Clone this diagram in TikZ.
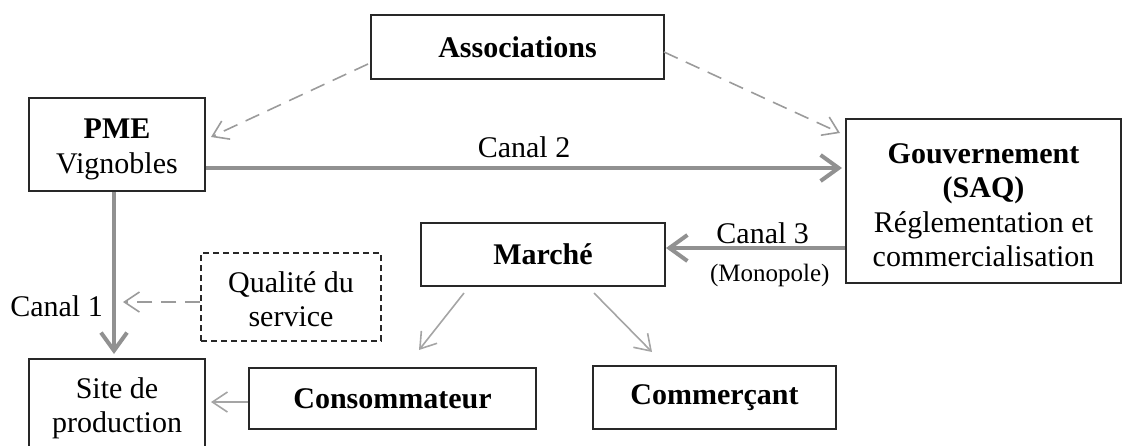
\documentclass[tikz,border=0pt]{standalone}
\usepackage{fontspec}
\setmainfont{Liberation Serif}
\usetikzlibrary{arrows.meta,calc}
\definecolor{boxline}{RGB}{40,40,40}
\definecolor{flow}{RGB}{145,145,145}
\definecolor{thinflow}{RGB}{165,165,165}
\definecolor{dashflow}{RGB}{155,155,155}

\begin{document}
\begin{tikzpicture}[x=1pt,y=-1pt,
  box/.style={draw=boxline, line width=2pt, inner sep=0pt, align=center,
    font=\fontsize{30}{34.5}\selectfont},
  dbox/.style={box, line width=1.3pt, dash pattern=on 6pt off 4pt},
  txt/.style={inner sep=0pt, align=center, font=\fontsize{30}{34.5}\selectfont},
  canal/.style={draw=flow, line width=4.5pt,
    -{Straight Barb[length=18pt,width=26pt,line width=4pt]}},
  thinarrow/.style={draw=thinflow, line width=1.6pt,
    -{Straight Barb[length=15pt,width=20pt,line width=1.6pt]}},
  dasharrow/.style={draw=dashflow, line width=1.6pt, dash pattern=on 15pt off 9pt,
    -{Straight Barb[length=15pt,width=20pt,line width=1.6pt]}},
  lbl/.style={font=\fontsize{30}{32}\selectfont, inner sep=0pt},
  smalllbl/.style={font=\fontsize{25}{28}\selectfont, inner sep=0pt}
]
\useasboundingbox (0,0) rectangle (1123,445);

% single-line boxes
\node[box, minimum width=293pt, minimum height=64pt] (assoc) at (517.5,47) {\textbf{Associations}};
\node[box, minimum width=244pt, minimum height=63pt] (marche) at (543,254.5) {\textbf{March\'e}};
\node[box, minimum width=287pt, minimum height=61pt] (cons) at (392.5,398.5) {\textbf{Consommateur}};
\node[box, minimum width=243pt, minimum height=63pt] (comm) at (714.5,397.5) {\textbf{Commer\c{c}ant}};

% multi-line boxes: frame first, text set slightly below the centre
\node[box, minimum width=176pt, minimum height=93pt] (pme) at (117,144.5) {};
\node[txt] (pmetext) at ([yshift=-5pt]pme.center) {\textbf{PME}\\Vignobles};
\node[box, minimum width=275pt, minimum height=164pt] (gouv) at (983.5,201) {};
\node[txt] (gouvtext) at ([yshift=-4pt]gouv.center) {\textbf{Gouvernement}\\\textbf{(SAQ)}\\R\'eglementation et\\commercialisation};
\node[dbox, minimum width=180pt, minimum height=88pt] (qual) at (291,297) {};
\node[txt] (qualtext) at ([yshift=-2pt]qual.center) {Qualit\'e du\\service};
\node[box, minimum width=176pt, minimum height=93pt] (site) at (117,405.5) {};
\node[txt] (sitetext) at ([yshift=-3pt]site.center) {Site de\\production};

% helper positions for the channel lines
\coordinate (c1) at (114,0);
\coordinate (c2) at (0,168);
\coordinate (c3) at (0,248);
\coordinate (c1end) at (114,354);

% main channels
\draw[canal] (pme.east |- c2) -- node[lbl, pos=0.5, above=8pt] (canal2) {Canal 2} ([xshift=-3pt]gouv.west |- c2);
\draw[canal] (gouv.west |- c3) -- node[lbl, pos=0.46, above=2pt] (canal3) {Canal 3}
  node[smalllbl, pos=0.42, below=14pt] (mono) {(Monopole)} (marche.east |- c3);
\draw[canal] (pme.south -| c1) -- (c1end);
\node[lbl, anchor=east] (canal1) at (103,306) {Canal 1};

% influences
\coordinate (a1) at (368,64);
\coordinate (p1) at (211,137);
\coordinate (a2) at (664,52);
\coordinate (g1) at (840,133);
\coordinate (q0) at (0,302);
\coordinate (q1) at (123,302);
\draw[dasharrow] (a1) -- (p1);
\draw[dasharrow] (a2) -- (g1);
\draw[dasharrow] (qual.west |- q0) -- (q1);

% market flows
\coordinate (m1) at (464,293);
\coordinate (k1) at (419,350);
\coordinate (m2) at (594,293);
\coordinate (k2) at (652,352);
\coordinate (s0) at (0,402);
\coordinate (s1) at (211,402);
\draw[thinarrow] (m1) -- (k1);
\draw[thinarrow] (m2) -- (k2);
\draw[thinarrow] (cons.west |- s0) -- (s1);
\end{tikzpicture}
\end{document}
